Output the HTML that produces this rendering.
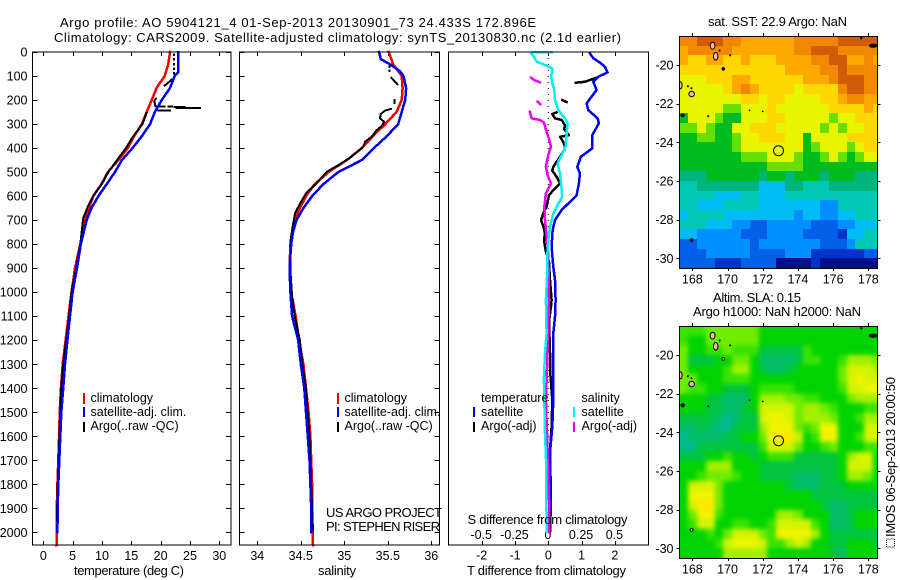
<!DOCTYPE html>
<html>
<head>
<meta charset="utf-8">
<title>Argo profile 5904121_4</title>
<style>
html,body{margin:0;padding:0;background:#fff;}
svg{display:block;}
text{font-family:"Liberation Sans",sans-serif;font-size:12.5px;fill:#000;}
text[textLength]{font-size:13px;}
</style>
</head>
<body>
<svg id="chart" xmlns="http://www.w3.org/2000/svg" width="900" height="580" viewBox="0 0 900 580">
<defs>
<filter id="slaBlur" x="-5%" y="-5%" width="110%" height="110%" color-interpolation-filters="sRGB"><feGaussianBlur stdDeviation="2.5"/></filter>
</defs>
<rect x="0" y="0" width="900" height="580" fill="#fff"/>
<g id="overlay">
<text x="60" y="27" textLength="476" lengthAdjust="spacing">Argo profile: AO 5904121_4 01-Sep-2013 20130901_73 24.433S 172.896E</text>
<text x="54" y="42" textLength="567" lengthAdjust="spacing">Climatology: CARS2009. Satellite-adjusted climatology: synTS_20130830.nc (2.1d earlier)</text>
<text x="74" y="575" textLength="110" lengthAdjust="spacing">temperature (deg C)</text>
<text x="318" y="575" textLength="38" lengthAdjust="spacing">salinity</text>
<text x="467" y="575" textLength="159" lengthAdjust="spacing">T difference from climatology</text>
<text x="467.5" y="524" textLength="160" lengthAdjust="spacing">S difference from climatology</text>
<text x="326" y="517" textLength="116" lengthAdjust="spacing">US ARGO PROJECT</text>
<text x="326" y="531" textLength="114" lengthAdjust="spacing">PI: STEPHEN RISER</text>
<text x="708" y="26" textLength="139" lengthAdjust="spacing">sat. SST: 22.9 Argo: NaN</text>
<text x="713" y="302" textLength="88" lengthAdjust="spacing">Altim. SLA: 0.15</text>
<text x="693" y="316" textLength="168" lengthAdjust="spacing">Argo h1000: NaN h2000: NaN</text>
<rect x="886.5" y="539" width="8" height="8" fill="none" stroke="#000" stroke-width="1" stroke-dasharray="1 1"/>
<text transform="translate(895,537) rotate(-90)" textLength="160" lengthAdjust="spacing">IMOS 06-Sep-2013 20:00:50</text>
</g>
</svg>
<script>
/* ---------- profile data ---------- */
var tempTicks = [0,5,10,15,20,25,30];
var salTicks = [34,34.5,35,35.5,36];
var salTickLabels = ['34','34.5','35','35.5','36'];
var depthTicks = [0,100,200,300,400,500,600,700,800,900,1000,1100,1200,1300,1400,1500,1600,1700,1800,1900,2000];
var diffTTicks = [-2,-1,0,1,2];
var diffSTicks = [-0.5,-0.25,0,0.25,0.5];
var diffSTickLabels = ['-0.5','-0.25','0','0.25','0.5'];

var climTempDepth = [0,50,100,150,200,250,300,350,400,450,500,550,600,650,700,800,900,1000,1100,1200,1300,1400,1500,1600,1700,1800,1900,2000,2053];
var climTemp = [21.6,21.3,20.7,19.3,18.5,17.6,16.8,15.5,14.4,12.8,11,9.9,8.5,7.8,7.1,6.3,5.4,4.8,4.3,3.8,3.3,3.0,2.8,2.7,2.56,2.4,2.3,2.3,2.25];
var satTempDepth = [0,50,85,100,150,200,250,300,350,400,450,500,550,600,650,700,800,900,1000,1100,1200,1300,1400,1500,1600,1700,1800,1900,2000];
var satTemp = [23,23,23,22.4,21.6,20.2,19,18.2,16.8,15.2,13.4,12.2,10.8,9.4,8.2,7.4,6.4,5.75,5,4.55,4.1,3.7,3.4,3.07,2.9,2.73,2.56,2.45,2.4];
var argoTempDepth = [10,12,null,30,32,null,50,52,null,68,70,null,88,90,null,115,140,null,194,205,224,null,226,226,null,226,226,null,229,229,null,233,233,null,243,243,null,254,300,351,400,449,499,549,599,649,692,799,899,1000,1100,1200,1300,1400,1500,1600,1700,1800,1900,1950];
var argoTemp = [22.3,22.3,null,22.3,22.3,null,22.3,22.3,null,22.3,22.3,null,22.3,22.3,null,21.9,20.7,null,19.2,18.9,19.1,null,19.3,20.7,null,21.3,21.9,null,22.4,24.1,null,22.7,26.7,null,19.6,21.6,null,17.6,16.9,15.3,14.1,12.6,11.1,10,8.5,7.5,6.8,6.3,5.6,4.8,4.4,3.9,3.4,3.05,2.9,2.75,2.6,2.45,2.35,2.3];

var climSalDepth = [0,50,100,150,200,250,300,350,400,450,500,550,600,650,700,750,800,900,1000,1100,1200,1300,1400,1500,1600,1700,1800,1900,2053];
var climSal = [35.51,35.56,35.66,35.67,35.66,35.6,35.47,35.33,35.2,35.03,34.82,34.66,34.56,34.49,34.43,34.4,34.38,34.37,34.39,34.44,34.48,34.53,34.56,34.59,34.61,34.62,34.63,34.63,34.64];
var satSalDepth = [0,30,50,80,100,150,200,250,300,350,400,450,500,550,600,650,700,750,800,900,1000,1100,1200,1300,1400,1500,1600,1700,1800,1900,2000];
var satSal = [35.4,35.42,35.52,35.64,35.68,35.71,35.7,35.66,35.62,35.49,35.34,35.2,34.93,34.76,34.63,34.53,34.45,34.41,34.39,34.37,34.38,34.4,34.47,34.5,34.54,34.56,34.58,34.6,34.61,34.62,34.62];
var argoSalDepth = [60,62,null,78,80,null,107,135,null,200,202,null,208,213,null,237,244,258,276,290,308,325,353,374,394,436,471,499,547,585,631,672,728,783,922,1019,1100,1200,1300,1400,1500,1600,1700,1800,1900,1990];
var argoSal = [35.52,35.52,null,35.52,35.52,null,35.54,35.61,null,35.575,35.575,null,35.575,35.575,null,35.537,35.468,35.418,35.41,35.456,35.43,35.372,35.314,35.238,35.219,35.084,34.931,34.797,34.682,34.567,34.491,34.433,34.406,34.383,34.383,34.4,34.43,34.49,34.52,34.56,34.58,34.6,34.61,34.62,34.63,34.64];

var satDiffTDepth = [6,26,44,61,85,103,124,158,186,214,242,276,297,346,401,436,478,506,547,596,624,658,700,742,811,894,950,1033,1102,1171,1300,1449,1560,1620,1670,1800,2000];
var satDiffT = [1.25,1.35,1.55,1.70,1.78,1.50,1.35,1.45,1.30,1.15,1.20,1.48,1.52,1.32,1.32,0.98,0.87,0.95,0.92,0.85,0.65,0.40,0.20,0.13,0.10,0.15,0.20,0.22,0.20,0.15,0.15,0.15,0.12,0.08,0.05,0.05,0.02];
var argoDiffTDepth = [107,114,124,128,null,200,208,null,251,258,276,283,304,322,346,353,367,392,408,436,478,494,519,547,575,596,644,672,700,728,756,783,825,874,950,1033,1060,1120,1250,1320,1449,1560,1660,1866,2000];
var argoDiffT = [1.45,1.30,1.10,0.82,null,0.42,0.55,null,0.25,0.12,0.20,0.40,0.50,0.48,0.62,0.35,0.42,0.50,0.48,0.35,0.15,0.12,0.25,0.35,0.15,0.02,-0.05,-0.15,-0.22,-0.14,-0.10,-0.13,-0.08,0.02,0.05,0.10,0.08,0.02,0.05,0.05,0.12,0.10,0.05,0.08,0.05];
var satDiffSDepth = [1,2,6,19,40,54,68,82,103,131,158,200,242,276,297,339,394,429,464,506,547,603,631,672,728,783,853,922,1033,1171,1254,1360,1440,1587,1726,2000];
var satDiffS = [0.025,-0.13,-0.13,-0.108,-0.088,-0.025,0.03,0.03,0.02,0.03,0.045,0.05,0.075,0.125,0.145,0.138,0.13,0.10,0.07,0.088,0.095,0.105,0.075,0.038,0.013,0,-0.008,-0.008,-0.018,-0.013,-0.025,-0.033,-0.03,-0.025,-0.015,-0.013];
var argoDiffSDepth = [107,117,126,null,207,217,null,249,276,283,294,318,353,394,429,478,513,547,589,644,700,769,839,1033,1320,1449,1660,1866,2000];
var argoDiffS = [-0.13,-0.105,-0.063,null,-0.08,-0.06,null,-0.138,-0.125,-0.063,-0.033,-0.02,0,0.02,0,-0.018,-0.005,0.02,-0.018,-0.03,-0.025,-0.013,0,0.005,-0.01,-0.018,-0.005,0.005,0.005];

/* ---------- map data ---------- */
var mapLonTicks = [168,170,172,174,176,178];
var mapLatTicks = [20,22,24,26,28,30];
var floatLon = 172.896;
var floatLat = 24.433;
var sstPalette = ['#00108c','#0034c8','#0060ea','#0090ff','#00bcf4','#00c8b4','#00b480','#00bc20','#66e000','#e8f400','#ffd800','#ffa800','#f08800','#d05c08'];
var slaPalette = ['#00b890','#00bc68','#00c440','#00d400','#38e400','#70ec00','#a4f000','#d4f400','#f0f400','#ffe800'];
var sstLevels = [
[12,12,13,13,13,12,12,11,11,11,11,11,11,12,12,12,12,12,13,13,13,13,13],
[11,12,12,12,12,12,11,11,11,11,11,11,11,12,12,13,13,13,12,12,12,12,12],
[11,10,10,11,11,10,10,11,10,10,10,11,11,11,11,12,12,13,13,11,11,12,11],
[10,10,10,10,10,10,10,10,10,10,10,10,11,11,11,11,12,12,13,12,12,12,12],
[9,9,9,10,10,10,11,11,10,10,10,10,10,10,11,11,11,12,13,13,13,12,12],
[9,9,9,9,9,10,11,12,11,10,10,10,10,9,10,10,10,10,12,13,13,12,12],
[9,9,9,9,9,9,9,10,10,9,10,10,9,9,9,9,10,10,11,12,12,11,11],
[9,9,9,9,9,8,8,9,9,9,10,9,9,9,9,9,9,10,10,10,10,11,10],
[7,9,9,9,8,7,7,9,9,9,10,10,9,9,9,9,9,8,9,9,10,10,10],
[8,8,9,8,7,7,9,9,10,10,10,9,9,9,9,9,8,9,8,9,9,10,10],
[7,7,8,8,7,7,8,9,9,10,10,10,9,9,7,9,9,9,9,10,10,10,10],
[7,7,7,7,7,7,8,9,9,9,9,9,9,9,7,8,9,9,9,8,9,10,10],
[7,7,7,7,7,7,7,8,8,8,9,9,9,8,7,7,8,9,8,7,8,9,9],
[7,7,7,7,7,7,7,7,7,7,8,8,8,8,7,7,7,7,7,7,7,7,7],
[6,6,6,7,7,7,7,7,7,6,7,7,6,7,7,7,6,7,7,7,6,6,6],
[5,5,6,6,6,6,6,6,6,4,4,4,6,6,5,5,5,6,6,6,6,6,6],
[5,5,5,5,4,4,4,5,5,4,4,4,5,5,5,5,5,5,5,5,5,5,5],
[5,5,4,4,4,5,5,5,5,4,4,4,4,4,4,4,3,3,5,5,5,5,5],
[4,5,5,5,5,4,4,4,4,4,4,4,4,3,4,4,3,3,4,4,5,5,5],
[5,5,5,4,4,4,3,3,2,2,3,3,3,3,3,2,2,2,3,3,4,4,4],
[4,4,3,3,3,3,3,2,2,2,3,3,3,3,2,2,2,2,1,4,4,5,5],
[2,2,3,3,3,3,3,3,2,3,3,3,3,3,3,3,2,2,2,3,5,5,5],
[2,2,2,3,3,3,3,3,2,2,2,2,3,3,3,1,1,1,1,1,1,2,2],
[2,2,2,2,1,1,1,2,2,2,2,0,0,0,0,1,0,0,0,0,0,0,0]
];
var slaLevels = [
[4,4,4,5,5,5,5,5,5,3,3,3,3,3,3,3,3,3,3,3,3,3,3],
[4,3,3,5,5,5,5,5,5,3,3,3,3,3,3,3,3,3,3,3,3,3,3],
[5,3,3,4,4,5,4,4,4,2,2,2,2,2,4,3,3,3,3,3,3,3,3],
[5,2,2,2,3,3,5,5,3,1,1,1,1,2,4,4,3,3,4,6,6,6,5],
[5,3,3,3,3,4,6,6,3,2,1,1,2,3,3,3,3,3,5,7,7,7,6],
[5,5,3,3,3,4,4,4,3,3,3,3,3,3,3,3,3,3,5,7,8,7,7],
[5,4,4,3,3,2,2,2,3,4,4,4,4,3,3,3,3,3,4,7,7,8,8],
[3,3,3,2,2,1,1,1,3,6,6,6,5,5,4,4,3,3,3,5,6,6,6],
[3,3,3,2,2,1,1,2,3,7,7,7,7,5,6,6,5,4,3,3,3,4,4],
[2,2,2,2,1,0,1,2,2,7,8,8,7,5,6,6,6,5,3,3,4,6,6],
[1,1,2,1,0,0,2,2,2,6,8,8,8,5,4,5,8,8,3,3,3,7,7],
[0,1,1,1,1,2,2,3,3,5,8,9,9,7,3,4,8,8,3,3,4,7,7],
[0,0,2,2,2,2,2,2,2,4,7,7,7,5,3,3,4,5,3,3,3,4,4],
[2,2,2,3,3,4,3,3,2,3,4,4,4,2,2,2,2,2,3,6,7,7,3],
[3,3,3,6,6,6,3,3,3,2,2,2,2,2,2,2,2,2,3,7,7,7,3],
[3,3,4,5,5,5,4,3,3,2,2,2,2,1,1,1,2,2,3,6,6,5,3],
[3,7,7,7,5,3,3,3,3,3,3,3,2,1,1,1,2,2,2,3,3,3,3],
[3,8,8,8,5,3,3,3,3,3,3,3,3,3,3,2,2,2,2,2,2,2,2],
[3,7,9,9,5,3,3,3,3,3,3,3,3,3,3,3,2,1,1,2,2,2,2],
[3,5,8,8,4,3,3,3,3,3,3,6,6,5,3,3,3,1,1,2,3,3,3],
[3,4,7,7,3,3,4,4,3,3,4,7,7,7,7,4,3,1,1,2,3,3,3],
[3,3,3,4,3,5,7,7,7,5,4,8,8,8,8,6,3,2,2,2,2,2,2],
[3,3,3,3,4,7,8,8,8,7,4,4,6,7,6,3,3,2,2,3,3,3,2],
[3,3,3,3,3,6,6,6,6,6,3,3,3,3,3,3,3,2,1,3,3,3,3]
];
var islandLon = [169.15,169.33,169.76,167.96,167.33,167.45,167.96,178.28,177.6,169.55,170.15,171.25,172.0,168.9,167.75,167.95];
var islandLat = [19.0,19.55,20.2,21.5,21.05,22.6,29.05,19.0,18.6,19.25,19.5,22.35,22.4,22.65,21.1,21.2];
var islandRadiusLon = [0.14,0.13,0.07,0.16,0.09,0.09,0.08,0.22,0.03,0.03,0.03,0.02,0.02,0.03,0.03,0.03];
var islandRadiusLat = [0.18,0.2,0.07,0.14,0.18,0.08,0.07,0.08,0.05,0.03,0.03,0.02,0.02,0.03,0.03,0.03];
var islandFillSst = ['#f4b898','#f4b898','#000','#f4b898','#f4b898','#000','#000','#000','#000','#000','#000','#000','#000','#000','#000','#000'];
var islandFillSla = ['#f4b898','#f4b898','#fff','#f4b898','#f4b898','#000','#fff','#000','#000','#000','#000','#000','#000','#000','#000','#000'];

/* ---------- geometry ---------- */
var svg = document.getElementById('chart');
var NS = 'http://www.w3.org/2000/svg';
var plotTop = 52, plotBottom = 545;
var lineWidth = 2.5;
function yDepth(d){ return 52 + 0.2402 * d; }
function xTemp(v){ return 43.3 + 5.867 * v; }
function xSal(v){ return 257.3 + 87 * (v - 34); }
function xDiffT(v){ return 548.3 + 33.3 * v; }
function xDiffS(v){ return 548.3 + 133.2 * v; }
function xLon(v){ return 679.3 + 17.6 * (v - 167.26); }
function ySst(v){ return 65 + 19.33 * (v - 20); }
function ySla(v){ return 355 + 19.33 * (v - 20); }

function make(tag, attrs, parent){
  var el = document.createElementNS(NS, tag);
  for (var k in attrs) el.setAttribute(k, attrs[k]);
  (parent || svg).appendChild(el);
  return el;
}
function group(name){
  var g = document.createElementNS(NS, 'g');
  
  
  svg.appendChild(g);
  return g;
}
function label(parent, name, x, y, str, anchor){
  var t = make('text', {x:x, y:y, 'text-anchor':anchor || 'middle'}, parent);
  
  
  t.textContent = str;
  return t;
}
function tickLine(parent, name, x1, y1, x2, y2){
  var l = make('line', {x1:x1, y1:y1, x2:x2, y2:y2, stroke:'#000', 'stroke-width':1, 'shape-rendering':'crispEdges'}, parent);
  
  
}
function frame(name, x, y, w, h){
  var r = make('rect', {x:x, y:y, width:w, height:h, fill:'none', stroke:'#000', 'stroke-width':1, 'shape-rendering':'crispEdges'});
  
  
}
function series(name, depths, values, xFn, color, width){
  var g = group(name);
  var pts = [];
  function flush(){
    if (pts.length > 1) {
      var p = make('polyline', {points:pts.join(' '), fill:'none', stroke:color, 'stroke-width':width, 'stroke-linecap':'square', 'stroke-linejoin':'round', 'shape-rendering':'crispEdges'}, g);
      
      
    }
    pts = [];
  }
  for (var i = 0; i < depths.length; i++) {
    if (depths[i] === null || values[i] === null) { flush(); continue; }
    pts.push(xFn(values[i]).toFixed(1) + ',' + yDepth(depths[i]).toFixed(1));
  }
  flush();
}
function legendKey(parent, name, x, y1, y2, color){
  var l = make('line', {x1:x, y1:y1, x2:x, y2:y2, stroke:color, 'stroke-width':2, 'shape-rendering':'crispEdges'}, parent);
  
  
}

/* ---------- profile panels ---------- */
var panels = [[32.5,231],[239.5,439.5],[448.5,648.5]];
function depthTickMarks(g, left, right){
  depthTicks.forEach(function(d){
    var y = Math.round(yDepth(d)) + 0.5;
    tickLine(g, 'depth-tick', left, y, left + 5, y);
    tickLine(g, 'depth-tick', right - 5, y, right, y);
  });
}
var gT = group('temperature-panel');
depthTicks.forEach(function(d){
  label(gT, 'depth-tick-label', 27.5, yDepth(d) + 4.5, String(d), 'end');
});
depthTickMarks(gT, panels[0][0], panels[0][1]);
tempTicks.forEach(function(v){
  var x = Math.round(xTemp(v)) + 0.5;
  tickLine(gT, 'temperature-tick', x, plotTop, x, plotTop + 4);
  tickLine(gT, 'temperature-tick', x, plotBottom - 4, x, plotBottom);
  label(gT, 'temperature-tick-label', xTemp(v), 560, String(v));
});
series('temperature-climatology-line', climTempDepth, climTemp, xTemp, '#f00000', lineWidth);
series('temperature-argo-line', argoTempDepth, argoTemp, xTemp, '#000', 2);
series('temperature-satellite-line', satTempDepth, satTemp, xTemp, '#0000f0', lineWidth);
frame('temperature-panel-frame', 32.5, 52, 198.5, 493);

var gS = group('salinity-panel');
depthTickMarks(gS, panels[1][0], panels[1][1]);
salTicks.forEach(function(v, i){
  var x = Math.round(xSal(v)) + 0.5;
  tickLine(gS, 'salinity-tick', x, plotTop, x, plotTop + 4);
  tickLine(gS, 'salinity-tick', x, plotBottom - 4, x, plotBottom);
  label(gS, 'salinity-tick-label', xSal(v), 560, salTickLabels[i]);
});
series('salinity-climatology-line', climSalDepth, climSal, xSal, '#f00000', lineWidth);
series('salinity-argo-line', argoSalDepth, argoSal, xSal, '#000', 2);
series('salinity-satellite-line', satSalDepth, satSal, xSal, '#0000f0', lineWidth);
frame('salinity-panel-frame', 239.5, 52, 200, 493);

var gD = group('difference-panel');
var zeroLine = make('line', {x1:xDiffT(0), y1:plotTop, x2:xDiffT(0), y2:plotBottom, stroke:'#000', 'stroke-width':1, 'stroke-dasharray':'1 5'}, gD);


diffTTicks.forEach(function(v){
  var x = Math.round(xDiffT(v)) + 0.5;
  tickLine(gD, 'difference-tick', x, plotTop, x, plotTop + 4);
  tickLine(gD, 'difference-tick', x, plotBottom - 4, x, plotBottom);
  label(gD, 't-difference-tick-label', xDiffT(v), 559.5, String(v));
});
diffSTicks.forEach(function(v, i){
  label(gD, 's-difference-tick-label', xDiffS(v) - 0.5, 539, diffSTickLabels[i]);
});
series('argo-temperature-difference-line', argoDiffTDepth, argoDiffT, xDiffT, '#000', lineWidth);
series('satellite-temperature-difference-line', satDiffTDepth, satDiffT, xDiffT, '#0000f0', lineWidth);
series('argo-salinity-difference-line', argoDiffSDepth, argoDiffS, xDiffS, '#f000f0', lineWidth);
series('satellite-salinity-difference-line', satDiffSDepth, satDiffS, xDiffS, '#00f0f0', lineWidth);
frame('difference-panel-frame', 448.5, 52, 200, 493);

/* ---------- legends ---------- */
var lg1 = group('temperature-legend');
legendKey(lg1, 'legend-key-climatology', 84, 393, 404, '#f00000');
legendKey(lg1, 'legend-key-satellite', 84, 407, 417, '#0000f0');
legendKey(lg1, 'legend-key-argo', 84, 422, 432, '#000');
label(lg1, 'legend-entry-climatology', 90.5, 402, 'climatology', 'start');
label(lg1, 'legend-entry-satellite', 90.5, 416, 'satellite-adj. clim.', 'start');
label(lg1, 'legend-entry-argo', 90.5, 430, 'Argo(..raw -QC)', 'start');
var lg2 = group('salinity-legend');
legendKey(lg2, 'legend-key-climatology', 338, 393, 404, '#f00000');
legendKey(lg2, 'legend-key-satellite', 338, 407, 417, '#0000f0');
legendKey(lg2, 'legend-key-argo', 338, 422, 432, '#000');
label(lg2, 'legend-entry-climatology', 344.5, 402, 'climatology', 'start');
label(lg2, 'legend-entry-satellite', 344.5, 416, 'satellite-adj. clim.', 'start');
label(lg2, 'legend-entry-argo', 344.5, 430, 'Argo(..raw -QC)', 'start');
var lg3 = group('difference-legend');
legendKey(lg3, 'legend-key-satellite-temperature', 474, 407, 417, '#0000f0');
legendKey(lg3, 'legend-key-argo-temperature', 474, 422, 432, '#000');
legendKey(lg3, 'legend-key-satellite-salinity', 574, 407, 417, '#00f0f0');
legendKey(lg3, 'legend-key-argo-salinity', 574, 422, 432, '#f000f0');
label(lg3, 'legend-heading-temperature', 481, 402, 'temperature', 'start');
label(lg3, 'legend-entry-satellite-temperature', 481, 416, 'satellite', 'start');
label(lg3, 'legend-entry-argo-temperature', 481, 430, 'Argo(-adj)', 'start');
label(lg3, 'legend-heading-salinity', 581.5, 402, 'salinity', 'start');
label(lg3, 'legend-entry-satellite-salinity', 581.5, 416, 'satellite', 'start');
label(lg3, 'legend-entry-argo-salinity', 581.5, 430, 'Argo(-adj)', 'start');

/* ---------- maps ---------- */
function drawMap(prefix, levels, palette, yFn, islandFill, clipId, xLabelY, smooth){
  var left = 679.5, right = 877.5, top = yFn(18.5), bottom = yFn(30.5);
  var defs = make('defs', {});
  var cp = make('clipPath', {id:clipId}, defs);
  make('rect', {x:left, y:top, width:right - left, height:bottom - top}, cp);
  var g = group(prefix + '-map');
  var clipped = make('g', {'clip-path':'url(#' + clipId + ')'}, g);
  
  
  var cellsId = prefix + 'Cells';
  var cells = make('g', {id:cellsId, 'shape-rendering':'crispEdges'}, clipped);
  
  
  levels.forEach(function(row, r){
    row.forEach(function(level, c){
      var lon0 = 167.26 + 0.5 * c, lat0 = 18.5 + 0.5 * r;
      var x0 = Math.round(xLon(lon0)), x1 = Math.round(xLon(lon0 + 0.5));
      var y0 = Math.round(yFn(lat0)), y1 = Math.round(yFn(lat0 + 0.5));
      var cell = make('rect', {x:x0, y:y0, width:x1 - x0, height:y1 - y0, fill:palette[level]}, cells);
      
      
    });
  });
  if (smooth) {
    var soft = make('use', {href:'#' + cellsId, filter:'url(#slaBlur)'}, clipped);
    
    
  }
  var coast = make('g', {'clip-path':'url(#' + clipId + ')'}, g);
  
  
  islandLon.forEach(function(lon, i){
    var e = make('ellipse', {cx:xLon(lon), cy:yFn(islandLat[i]), rx:islandRadiusLon[i] * 17.6, ry:islandRadiusLat[i] * 19.33, fill:islandFill[i], stroke:'#000', 'stroke-width':1}, coast);
    
    
  });
  var marker = make('circle', {cx:xLon(floatLon), cy:yFn(floatLat), r:5, fill:'none', stroke:'#000', 'stroke-width':1}, g);
  
  
  mapLonTicks.forEach(function(v){
    var x = Math.round(xLon(v)) + 0.5;
    tickLine(g, 'longitude-tick', x, top - 3, x, top);
    tickLine(g, 'longitude-tick', x, bottom, x, bottom + 3);
    label(g, 'longitude-tick-label', xLon(v), xLabelY, String(v));
  });
  mapLatTicks.forEach(function(v){
    var y = Math.round(yFn(v)) + 0.5;
    tickLine(g, 'latitude-tick', left - 3, y, left, y);
    tickLine(g, 'latitude-tick', right, y, right + 3, y);
    label(g, 'latitude-tick-label', 673.5, yFn(v) + 4.5, '-' + v, 'end');
  });
  frame(prefix + '-map-frame', left, Math.round(top) + 0.5, right - left, Math.round(bottom) - Math.round(top));
}
drawMap('sst', sstLevels, sstPalette, ySst, islandFillSst, 'clipSst', 283.5, false);
drawMap('sla', slaLevels, slaPalette, ySla, islandFillSla, 'clipSla', 573.5, true);

/* annotations sit above the plotted lines */
svg.appendChild(document.getElementById('overlay'));
</script>
</body>
</html>
